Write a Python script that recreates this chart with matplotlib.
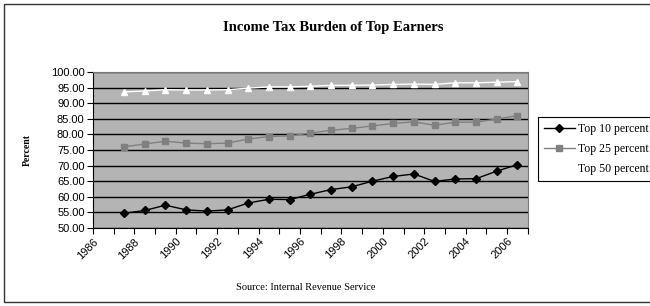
import numpy as np
import matplotlib
matplotlib.use('Agg')
import matplotlib.pyplot as plt
from matplotlib.patches import Rectangle

# share of federal income tax paid (percent), IRS
years = list(range(1987, 2007))
top10 = [54.7, 55.6, 57.3, 55.8, 55.4, 55.8, 58.0, 59.2, 59.1, 60.8,
         62.3, 63.2, 65.0, 66.5, 67.3, 64.9, 65.7, 65.8, 68.2, 70.3]
top25 = [76.0, 76.9, 77.8, 77.2, 77.0, 77.2, 78.5, 79.3, 79.5, 80.4,
         81.3, 81.9, 82.7, 83.5, 84.0, 82.9, 83.9, 83.9, 84.9, 86.0]
top50 = [93.6, 93.9, 94.3, 94.2, 94.2, 94.3, 94.8, 95.2, 95.2, 95.4,
         95.7, 95.7, 95.8, 96.0, 96.1, 96.0, 96.5, 96.5, 96.7, 96.9]
labels = ['Top 10 percent', 'Top 25 percent', 'Top 50 percent']
tick_years = list(range(1986, 2007, 2))

serif = 'Liberation Serif'
sans = 'Liberation Sans'

fig = plt.figure(figsize=(6.5, 3.06), dpi=100)
fig.patch.set_facecolor('white')
ax = fig.add_axes([0.143, 0.255, 0.669, 0.51])
ax.set_facecolor('#b4b4b4')

# categories sit in the middle of each year interval
x = np.array(years) + 0.5
ax.plot(x, top10, color='black', marker='D', markersize=4.5, lw=1, label=labels[0])
ax.plot(x, top25, color='#808080', marker='s', markersize=5, lw=1, label=labels[1])
ax.plot(x, top50, color='white', marker='^', markersize=5, lw=1, label=labels[2])

ax.set_xlim(1986, 2007)
ax.set_ylim(50, 100)
ax.set_yticks(np.arange(50, 101, 5))
ax.set_yticklabels(['%.2f' % v for v in np.arange(50, 101, 5)], fontfamily=sans, fontsize=8)
ax.set_xticks(range(1986, 2008))
ax.set_xticklabels([str(y) if y in tick_years else '' for y in range(1986, 2008)],
                   rotation=45, ha='right', rotation_mode='anchor', fontfamily=sans, fontsize=8)
ax.tick_params(axis='both', direction='out', length=4, width=0.8, colors='black', pad=2)
ax.grid(axis='y', color='black', lw=1)
ax.set_axisbelow(True)
for s in ['top', 'right']:
    ax.spines[s].set_color('#7a7a7a')
for s in ['left', 'bottom']:
    ax.spines[s].set_color('black')

ax.set_ylabel('Percent', fontfamily=serif, fontsize=7, fontweight='bold', labelpad=14)

fig.text(0.512, 0.91, 'Income Tax Burden of Top Earners', ha='center', va='center',
         fontfamily=serif, fontsize=10.5, fontweight='bold')
fig.text(0.47, 0.062, 'Source: Internal Revenue Service', ha='center', va='center',
         fontfamily=serif, fontsize=7.5)

leg = ax.legend(loc='upper left', bbox_to_anchor=(0.828, 0.618), bbox_transform=fig.transFigure,
                prop={'family': serif, 'size': 8.5}, frameon=True, fancybox=False,
                edgecolor='black', framealpha=1, handlelength=2.6, borderpad=0.5,
                labelspacing=0.7, handletextpad=0.3, borderaxespad=0)
leg.get_frame().set_linewidth(0.8)

fig.patches.append(Rectangle((0.006, 0.012), 1.2, 0.976, transform=fig.transFigure,
                             fill=False, edgecolor='#333333', lw=1))

fig.savefig('out.png', dpi=100)
